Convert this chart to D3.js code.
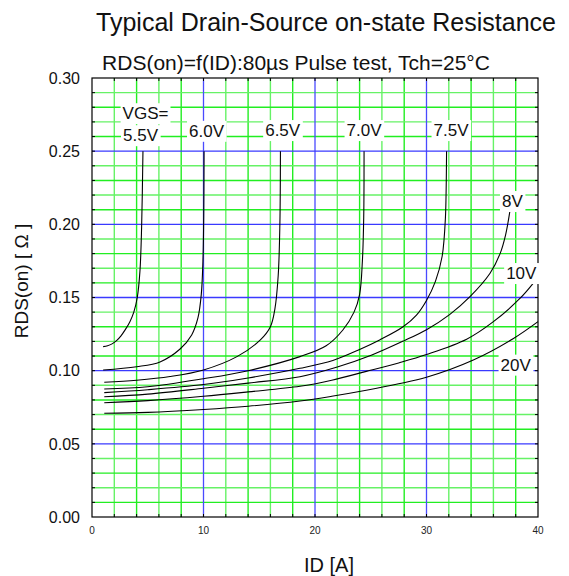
<!DOCTYPE html>
<html>
<head>
<meta charset="utf-8">
<script src="https://cdn.jsdelivr.net/npm/d3@7"></script>
<style>
  body { margin: 0; background: #fff; }
  svg { font-family: Arial, "Liberation Sans", sans-serif; }
</style>
</head>
<body>
<svg id="chart" width="569" height="576"></svg>
<script>
// ---- data ----
const xTicks = [0, 10, 20, 30, 40];
const yTicks = [0.00, 0.05, 0.10, 0.15, 0.20, 0.25, 0.30];

const id55 = [1.0, 1.4, 1.8, 2.2, 2.6, 3.0, 3.4, 3.75, 4.06, 4.3, 4.45, 4.57];
const r55  = [0.1164, 0.1170, 0.1183, 0.1205, 0.1238, 0.1282, 0.1335, 0.1400, 0.150, 0.168, 0.198, 0.250];

const id60 = [1.0, 4.0, 6.1, 7.9, 8.94, 9.5, 9.8, 9.95, 10.02, 10.05];
const r60  = [0.1005, 0.1027, 0.106, 0.1148, 0.1244, 0.136, 0.152, 0.175, 0.205, 0.250];

const id65 = [1.1, 4.0, 7.0, 10.0, 13.0, 15.1, 16.0, 16.4, 16.7, 16.85, 16.9];
const r65  = [0.0921, 0.0935, 0.096, 0.1005, 0.1096, 0.121, 0.130, 0.142, 0.165, 0.200, 0.250];

const id70 = [1.1, 5.0, 10.0, 14.0, 18.65, 21.0, 22.5, 23.5, 24.0, 24.25, 24.37, 24.4];
const r70  = [0.0875, 0.089, 0.0945, 0.100, 0.1096, 0.117, 0.1278, 0.140, 0.152, 0.175, 0.205, 0.250];

const id75 = [1.1, 5.0, 10.0, 14.0, 18.65, 21.6, 24.0, 25.8, 27.9, 29.1, 30.0, 30.8, 31.4, 31.7, 31.8];
const r75  = [0.085, 0.087, 0.0905, 0.095, 0.1016, 0.107, 0.1145, 0.121, 0.130, 0.138, 0.148, 0.161, 0.178, 0.205, 0.250];

const id80 = [1.1, 5.0, 10.0, 14.0, 18.65, 22.0, 25.1, 28.0, 30.0, 32.1, 33.9, 35.7, 36.6, 37.1, 37.5];
const r80  = [0.0822, 0.084, 0.088, 0.0915, 0.0959, 0.1025, 0.1107, 0.1205, 0.128, 0.1385, 0.1506, 0.1666, 0.180, 0.193, 0.210];

const id10 = [1.1, 5.0, 10.0, 14.0, 18.65, 21.5, 24.6, 27.5, 30.0, 33.6, 36.0, 38.4, 39.6];
const r10  = [0.0781, 0.0795, 0.0825, 0.0855, 0.0893, 0.0935, 0.0995, 0.1053, 0.111, 0.1215, 0.1335, 0.1495, 0.160];

const id20 = [1.1, 5.0, 10.0, 14.0, 18.65, 21.5, 24.6, 27.5, 30.0, 34.2, 37.8, 40.0];
const r20  = [0.0709, 0.0715, 0.0735, 0.0757, 0.0793, 0.0825, 0.0866, 0.091, 0.0955, 0.1073, 0.122, 0.1335];

const curveIds = [id55, id60, id65, id70, id75, id80, id10, id20];
const curveRs  = [r55, r60, r65, r70, r75, r80, r10, r20];

const labelText = ["VGS=", "5.5V", "6.0V", "6.5V", "7.0V", "7.5V", "8V", "10V", "20V"];
const labelId   = [4.8, 4.35, 10.27, 17.1, 24.4, 32.2, 37.7, 38.5, 38.0];
const labelR    = [0.276, 0.261, 0.264, 0.2645, 0.2645, 0.2645, 0.216, 0.1668, 0.1042];

// ---- layout ----
const svg = d3.select('#chart');
const m = { left: 92, right: 538, top: 78, bottom: 517 };

const x = d3.scaleLinear().domain([0, 40]).range([m.left, m.right]);
const y = d3.scaleLinear().domain([0, 0.30]).range([m.bottom, m.top]);

const minorX = d3.range(2, 40, 2).filter(v => v % 10 !== 0);
const minorY = d3.range(1, 30).filter(v => v % 5 !== 0).map(v => v / 100);
const majorX = [10, 20, 30];
const majorY = [0.05, 0.10, 0.15, 0.20, 0.25];

const grid = svg.append('g');
grid.selectAll('.gx').data(minorX).enter().append('line')
    .attr('x1', d => x(d)).attr('x2', d => x(d)).attr('y1', m.top).attr('y2', m.bottom)
    .attr('stroke', (d, i) => i % 2 ? '#22ee22' : '#66f266').attr('stroke-width', 1.4);
grid.selectAll('.gy').data(minorY).enter().append('line')
    .attr('y1', d => y(d)).attr('y2', d => y(d)).attr('x1', m.left).attr('x2', m.right)
    .attr('stroke', (d, i) => i % 2 ? '#66f266' : '#22ee22').attr('stroke-width', 1.4);
grid.selectAll('.mx').data(majorX).enter().append('line')
    .attr('x1', d => x(d)).attr('x2', d => x(d)).attr('y1', m.top).attr('y2', m.bottom)
    .attr('stroke', '#4a4aff').attr('stroke-width', 1.3);
grid.selectAll('.my').data(majorY).enter().append('line')
    .attr('y1', d => y(d)).attr('y2', d => y(d)).attr('x1', m.left).attr('x2', m.right)
    .attr('stroke', '#3a3aff').attr('stroke-width', 1.3);

// frame
svg.append('rect').attr('x', m.left).attr('y', m.top)
    .attr('width', m.right - m.left).attr('height', m.bottom - m.top)
    .attr('fill', 'none').attr('stroke', '#000').attr('stroke-width', 1.2);

// inner tick marks on all sides
const ticksG = svg.append('g').attr('stroke', '#000').attr('stroke-width', 1);
const allX = d3.range(2, 40, 2), allY = d3.range(1, 30).map(v => v / 100);
[[m.bottom, -3], [m.top, 3]].forEach(([yy, dy]) => {
  ticksG.selectAll(null).data(allX).enter().append('line')
    .attr('x1', d => x(d)).attr('x2', d => x(d)).attr('y1', yy).attr('y2', yy + dy);
});
[[m.left, 3], [m.right, -3]].forEach(([xx, dx]) => {
  ticksG.selectAll(null).data(allY).enter().append('line')
    .attr('y1', d => y(d)).attr('y2', d => y(d)).attr('x1', xx).attr('x2', xx + dx);
});

// axis labels
svg.append('g').selectAll('text').data(xTicks).enter().append('text')
    .attr('x', d => x(d)).attr('y', m.bottom + 17)
    .attr('text-anchor', 'middle').attr('font-size', 10).attr('fill', '#222')
    .text(d => d);
svg.append('g').selectAll('text').data(yTicks).enter().append('text')
    .attr('x', m.left - 12).attr('y', d => y(d)).attr('dy', '0.36em')
    .attr('text-anchor', 'end').attr('font-size', 16).attr('fill', '#111')
    .text(d => d.toFixed(2));

// curves
const line = d3.line().x(d => x(d[0])).y(d => y(d[1])).curve(d3.curveCatmullRom.alpha(0.5));
svg.append('g').selectAll('path')
    .data(curveIds.map((ids, k) => ids.map((v, j) => [v, curveRs[k][j]])))
    .enter().append('path')
    .attr('d', line).attr('fill', 'none').attr('stroke', '#000').attr('stroke-width', 1.1);

// curve labels with white boxes
const lab = svg.append('g');
labelText.forEach((t, i) => {
  const g = lab.append('g');
  const txt = g.append('text')
      .attr('x', x(labelId[i])).attr('y', y(labelR[i])).attr('dy', '0.36em')
      .attr('text-anchor', 'middle').attr('font-size', 17).attr('fill', '#111')
      .text(t);
  const b = txt.node().getBBox();
  g.insert('rect', 'text')
      .attr('x', b.x - 2).attr('y', b.y - 1)
      .attr('width', b.width + 4).attr('height', b.height + 2)
      .attr('fill', '#fff');
});

// titles
svg.append('text').attr('x', 326).attr('y', 31)
    .attr('text-anchor', 'middle').attr('font-size', 25).attr('fill', '#111')
    .text('Typical Drain-Source on-state Resistance');
svg.append('text').attr('x', 296).attr('y', 70)
    .attr('text-anchor', 'middle').attr('font-size', 21).attr('fill', '#111')
    .text('RDS(on)=f(ID):80µs Pulse test, Tch=25°C');
svg.append('text').attr('transform', 'translate(28,281) rotate(-90)')
    .attr('text-anchor', 'middle').attr('font-size', 19).attr('fill', '#111')
    .text('RDS(on) [ Ω ]');
svg.append('text').attr('x', 329).attr('y', 572)
    .attr('text-anchor', 'middle').attr('font-size', 20).attr('fill', '#111')
    .text('ID [A]');
</script>
</body>
</html>
